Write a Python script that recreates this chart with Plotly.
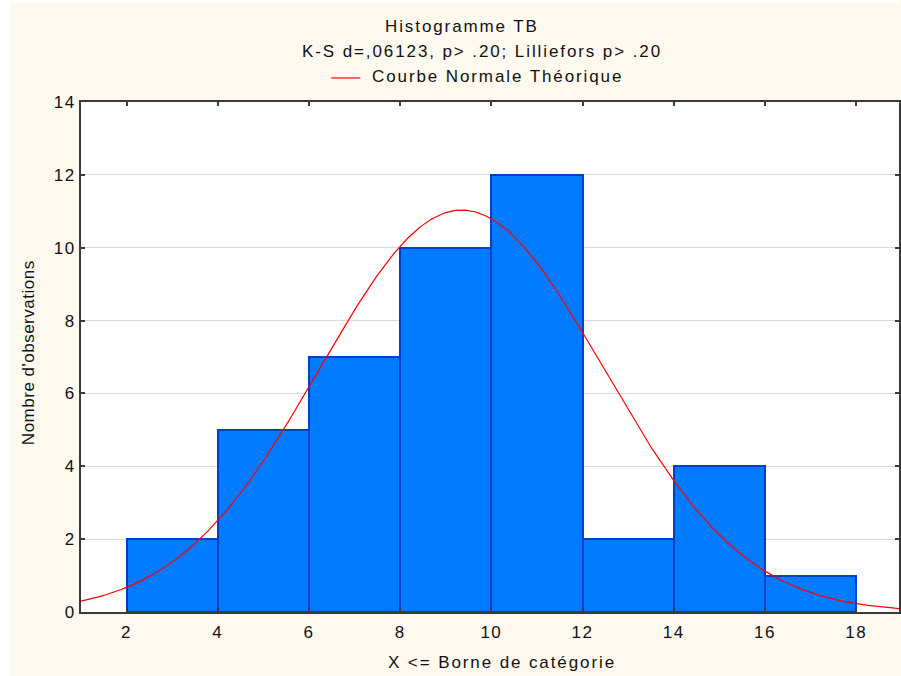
import numpy as np
import plotly.graph_objects as go

# ---- data ----
bin_lower = [2, 4, 6, 8, 10, 12, 14, 16]
bin_upper = [4, 6, 8, 10, 12, 14, 16, 18]
counts = [2, 5, 7, 10, 12, 2, 4, 1]
x_ticks = [2, 4, 6, 8, 10, 12, 14, 16, 18]
y_ticks = [0, 2, 4, 6, 8, 10, 12, 14]
normal_mean = 9.35
normal_sd = 3.11

title_line1 = "Histogramme TB"
title_line2 = "K-S d=,06123, p> .20; Lilliefors p> .20"
legend_label = "Courbe Normale Théorique"
x_title = "X <= Borne de catégorie"
y_title = "Nombre d'observations"

W, H = 901, 676
ML, MR, MT, MB = 81, 0, 102, 64
PW, PH = W - ML - MR, H - MT - MB

def px(x):
    return (x - ML) / PW

def py(y):
    return (H - MB - y) / PH

def sp(t, ls=1.9):
    return '<span style="letter-spacing:%spx">%s</span>' % (ls, t.replace("<", "&lt;"))

centers = [(a + b) / 2 for a, b in zip(bin_lower, bin_upper)]
widths = [b - a for a, b in zip(bin_lower, bin_upper)]
n_total = sum(counts)
bw = widths[0]

xr = [1.0, 18.94]
xc = np.linspace(xr[0], xr[1], 400)
yc = n_total * bw / (normal_sd * np.sqrt(2 * np.pi)) * np.exp(-0.5 * ((xc - normal_mean) / normal_sd) ** 2)

font_fam = "Liberation Sans, Arial, sans-serif"
FS = 17

fig = go.Figure()
fig.add_trace(go.Bar(
    x=centers, y=counts, width=widths,
    marker=dict(color="#007bff", line=dict(color="#0040c8", width=2)),
    showlegend=False, hoverinfo="x+y",
))
fig.add_trace(go.Scatter(
    x=xc, y=yc, mode="lines", line=dict(color="#ff0000", width=1.2),
    showlegend=False, name=legend_label,
))

axis_common = dict(
    showline=True, linecolor="#3a3a3a", linewidth=2, mirror="ticks",
    ticks="inside", ticklen=4, tickwidth=1.5, tickcolor="#3a3a3a",
    tickfont=dict(family=font_fam, size=FS, color="#111"),
    zeroline=False,
)

fig.update_layout(
    width=W, height=H,
    margin=dict(l=ML, r=MR, t=MT, b=MB),
    paper_bgcolor="#fdf9ef", plot_bgcolor="#ffffff",
    font=dict(family=font_fam, size=FS, color="#111"),
    xaxis=dict(range=xr, tickvals=x_ticks, ticktext=[sp(str(v), 1.5) for v in x_ticks],
               ticklabelstandoff=4, showgrid=False, **axis_common),
    yaxis=dict(range=[0, 14], tickvals=y_ticks, ticktext=[sp(str(v), 1.5) for v in y_ticks],
               showgrid=True, gridcolor="#d9d9d9", gridwidth=1, **axis_common),
    bargap=0,
)

annots = [
    dict(text=sp(title_line1), x=px(463), y=py(26)),
    dict(text=sp(title_line2), x=px(483), y=py(52)),
    dict(text=sp(legend_label), x=px(371), y=py(77), xanchor="left"),
    dict(text=sp(x_title), x=px(503), y=py(662)),
    dict(text=sp(y_title, 0.5), x=px(28), y=py(353), textangle=-90),
]
for a in annots:
    a.setdefault("xanchor", "center")
    fig.add_annotation(xref="paper", yref="paper", yanchor="middle", showarrow=False,
                       font=dict(family=font_fam, size=FS, color="#111"), **a)

fig.add_shape(type="line", xref="paper", yref="paper",
              x0=px(332), x1=px(361), y0=py(78), y1=py(78),
              line=dict(color="#ff0000", width=1.2))
# white outer strips
fig.add_shape(type="rect", xref="paper", yref="paper", layer="below",
              x0=px(0), x1=px(10), y0=py(H), y1=py(0),
              line=dict(width=0), fillcolor="#ffffff")
fig.add_shape(type="rect", xref="paper", yref="paper", layer="below",
              x0=px(0), x1=px(W), y0=py(3), y1=py(0),
              line=dict(width=0), fillcolor="#ffffff")

fig.write_html("out.html")
